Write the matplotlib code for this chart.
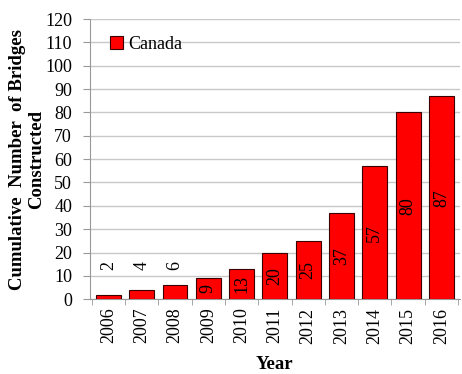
import matplotlib.pyplot as plt

plt.rcParams['font.family'] = ['Liberation Serif', 'DejaVu Serif']

years = ['2006', '2007', '2008', '2009', '2010', '2011', '2012', '2013', '2014', '2015', '2016']
bridges = [2, 4, 6, 9, 13, 20, 25, 37, 57, 80, 87]

fig = plt.figure(figsize=(4.62, 3.74), dpi=100)
ax = fig.add_axes([0.195, 0.2, 0.80, 0.749])

x = range(len(years))
ax.bar(x, bridges, width=0.75, color='#ff0000', edgecolor='#3a0000', linewidth=0.8,
       label='Canada', zorder=3)

# value labels: inside the bar when there is room, above it otherwise
for i, v in enumerate(bridges):
    if v < 8:
        ax.text(i, 14.5, str(v), rotation=90, ha='center', va='center', fontsize=13)
    else:
        ax.text(i, v / 2, str(v), rotation=90, ha='center', va='center', fontsize=13)

ax.set_ylim(0, 120)
ax.set_yticks(range(0, 121, 10))
ax.set_xlim(-0.55, len(years) - 0.45)
ax.set_xticks(list(x))
ax.set_xticklabels(years, rotation=90, fontsize=13)
ax.tick_params(axis='y', labelsize=13, length=5, color='#999999', pad=8)
ax.tick_params(axis='x', length=0, pad=6)
# small tick marks between categories
ax.set_xticks([i + 0.5 for i in range(-1, len(years))], minor=True)
ax.tick_params(axis='x', which='minor', length=4, color='#999999')

ax.grid(axis='y', color='#c8c8c8', linewidth=1.0, zorder=0)
for side in ['top', 'right']:
    ax.spines[side].set_visible(False)
ax.spines['left'].set_color('#999999')
ax.spines['bottom'].set_color('#999999')

ax.set_ylabel('Cumulative  Number  of Bridges\nConstructed', fontsize=13.5,
              fontweight='bold', linespacing=1.15, labelpad=0)
ax.set_xlabel('Year', fontsize=13.5, fontweight='bold', labelpad=9)

ax.legend(loc='upper left', frameon=False, fontsize=13, handlelength=0.7,
          handleheight=0.7, handletextpad=0.3, borderaxespad=0.0,
          bbox_to_anchor=(0.035, 0.965))

fig.savefig('out.png', dpi=100)
